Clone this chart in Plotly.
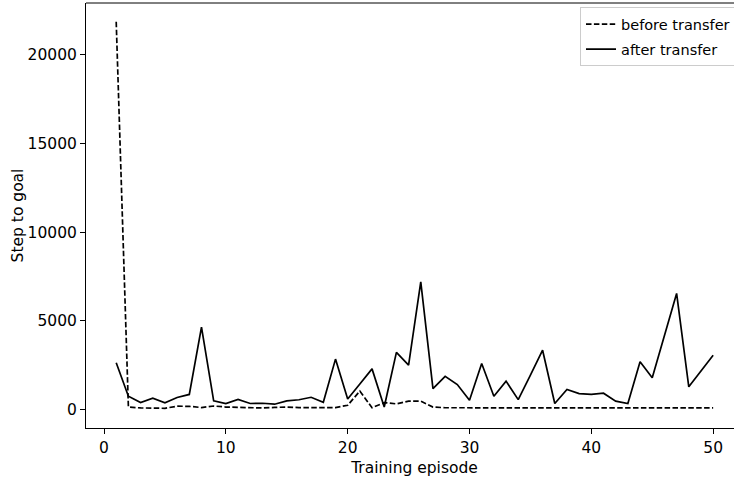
import plotly.graph_objects as go

episodes = list(range(1, 51))
before_transfer = [21850, 150, 100, 80, 80, 200, 190, 120, 210, 150,
                   130, 150, 100, 130, 150, 120, 120, 120, 120, 250,
                   1050, 110, 400, 330, 480, 480, 150, 110, 110, 100,
                   100, 100, 100, 110, 100, 100, 100, 100, 100, 110,
                   100, 100, 100, 100, 100, 100, 100, 100, 100, 100]
after_transfer = [2650, 760, 400, 650, 385, 690, 860, 4650, 500, 350,
                  575, 350, 365, 310, 500, 560, 700, 420, 2850, 600,
                  1450, 2300, 150, 3230, 2510, 7200, 1190, 1880, 1420, 530,
                  2600, 760, 1610, 570, 1950, 3350, 350, 1140, 910, 860,
                  930, 480, 350, 2700, 1800, 4200, 6550, 1290, 2200, 3070]
x_ticks = [0, 10, 20, 30, 40, 50]
y_ticks = [0, 5000, 10000, 15000, 20000]

FONT = "DejaVu Sans"
FS = 15.5
FIG_W = 743

fig = go.Figure()
fig.add_trace(go.Scatter(x=episodes, y=before_transfer, mode="lines",
                         name="before transfer", legendgroup="b",
                         line=dict(color="black", width=1.7, dash="5.5px,2.4px")))
fig.add_trace(go.Scatter(x=episodes, y=after_transfer, mode="lines",
                         name="after transfer", legendgroup="a",
                         line=dict(color="black", width=1.7)))

# top frame line (matplotlib spine)
fig.add_shape(type="line", xref="paper", yref="paper", x0=0, x1=1, y0=1, y1=1,
              line=dict(color="black", width=1))

fig.update_layout(
    width=FIG_W, height=479,
    margin=dict(l=86, r=0, t=3, b=51, autoexpand=False),
    paper_bgcolor="white", plot_bgcolor="white",
    font=dict(family=FONT, size=FS, color="black"),
    showlegend=True,
    legend=dict(x=(580 - 86) / (FIG_W - 86), y=0.990, xanchor="left", yanchor="top",
                bgcolor="rgba(255,255,255,0.8)", bordercolor="#cccccc",
                borderwidth=1, itemwidth=30, tracegroupgap=3,
                font=dict(family=FONT, size=14.5, color="black")),
    xaxis=dict(range=[-1.48, 52.45], tickvals=x_ticks, ticks="outside",
               ticklen=5, tickwidth=1, tickcolor="black", automargin=False,
               showline=True, linecolor="black", linewidth=1, mirror=False,
               showgrid=False, zeroline=False,
               title=dict(text="Training episode", standoff=6,
                          font=dict(family=FONT, size=FS))),
    yaxis=dict(range=[-1030, 22910], tickvals=y_ticks, tickformat="d",
               ticks="outside", ticklen=5, tickwidth=1, tickcolor="black",
               automargin=False, mirror=False,
               showline=True, linecolor="black", linewidth=1,
               showgrid=False, zeroline=False,
               title=dict(text="Step to goal", standoff=0,
                          font=dict(family=FONT, size=FS))),
)

fig.write_html("out.html", config={"displayModeBar": False},
               post_script="document.body.style.margin='0';"
                           "document.body.style.overflow='hidden';"
                           "document.documentElement.style.overflow='hidden';")
